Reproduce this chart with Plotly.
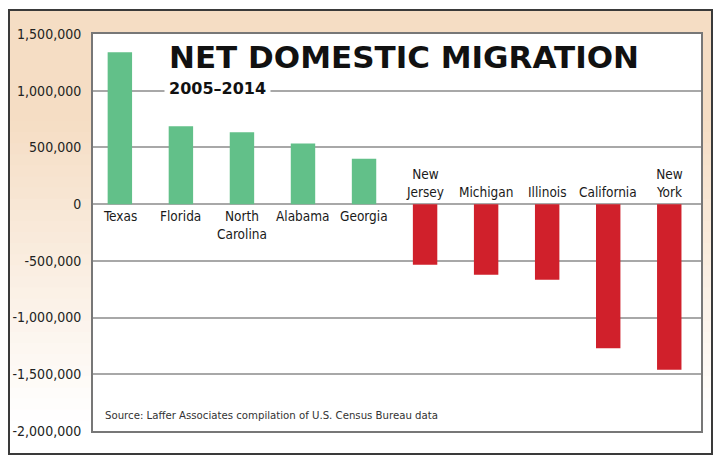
import plotly.graph_objects as go

states = ["Texas", "Florida", "North Carolina", "Alabama", "Georgia",
          "New Jersey", "Michigan", "Illinois", "California", "New York"]
state_labels = ["Texas", "Florida", "North<br>Carolina", "Alabama", "Georgia",
                "New<br>Jersey", "Michigan", "Illinois", "California", "New<br>York"]
migration = [1340000, 686000, 633000, 534000, 401000,
             -534000, -622000, -666000, -1271000, -1459000]
tick_values = [1500000, 1000000, 500000, 0, -500000, -1000000, -1500000, -2000000]
tick_labels = ["1,500,000", "1,000,000", "500,000", "0", "-500,000",
               "-1,000,000", "-1,500,000", "-2,000,000"]

W, H = 727, 465
L, R, T, B = 93, 701, 34, 431
PW, PH = R - L, B - T

def px_x(px):
    return (px - L) / PW

def px_y(py):
    return (B - py) / PH

GREEN = "#62C089"
RED = "#D0202B"
colors = [GREEN if v >= 0 else RED for v in migration]
xpos = list(range(len(states)))

fig = go.Figure()
fig.add_trace(go.Bar(x=xpos, y=migration, marker=dict(color=colors, line=dict(width=0)),
                     width=0.4, hoverinfo="skip"))

shapes = []
# gradient background inside frame (overlapping bands, no seams)
top_c = (245, 221, 196)
n = 40
y_top, y_bot = 10, 454
for i in range(n):
    a = y_top + (y_bot - y_top) * i / n
    b = y_top + (y_bot - y_top) * (i + 1) / n
    t = min(1.0, max(0.0, ((a + b) / 2 - 120) / 300))
    c = tuple(int(round(top_c[k] + (255 - top_c[k]) * t)) for k in range(3))
    shapes.append(dict(type="rect", xref="paper", yref="paper", layer="below",
                       x0=px_x(9), x1=px_x(712), y0=px_y(y_bot), y1=px_y(a),
                       fillcolor="rgb(%d,%d,%d)" % c, line=dict(width=0)))
# white plot area
shapes.append(dict(type="rect", xref="paper", yref="paper", layer="below",
                   x0=0, x1=1, y0=0, y1=1, fillcolor="white", line=dict(width=0)))
# outer frame
shapes.append(dict(type="rect", xref="paper", yref="paper", layer="above",
                   x0=px_x(9), x1=px_x(712), y0=px_y(454), y1=px_y(10),
                   fillcolor="rgba(0,0,0,0)", line=dict(color="#3a3a3a", width=2)))

NARROW = "DejaVu Sans Condensed, Liberation Sans Narrow, sans-serif"
annotations = []
for i, (lab, v) in enumerate(zip(state_labels, migration)):
    if v >= 0:
        annotations.append(dict(x=i, y=0, xref="x", yref="y", text=lab, showarrow=False,
                                yanchor="top", yshift=-2, align="center",
                                font=dict(family=NARROW, size=13.5, color="#1a1a1a")))
    else:
        annotations.append(dict(x=i, y=0, xref="x", yref="y", text=lab, showarrow=False,
                                yanchor="bottom", yshift=2, align="center",
                                font=dict(family=NARROW, size=13.5, color="#1a1a1a")))

annotations.append(dict(x=px_x(404), y=px_y(57), xref="paper", yref="paper",
                        text="<b>NET DOMESTIC MIGRATION</b>", showarrow=False,
                        xanchor="center", yanchor="middle",
                        font=dict(family="DejaVu Sans", size=31, color="#111")))
annotations.append(dict(x=px_x(164), y=px_y(88), xref="paper", yref="paper",
                        text="<b>2005–2014</b>", showarrow=False,
                        xanchor="left", yanchor="middle", bgcolor="white", borderpad=4,
                        font=dict(family="DejaVu Sans", size=16, color="#111")))
annotations.append(dict(x=px_x(103), y=px_y(415), xref="paper", yref="paper",
                        text="Source: Laffer Associates compilation of U.S. Census Bureau data",
                        showarrow=False, xanchor="left", yanchor="middle",
                        font=dict(family=NARROW, size=11.3, color="#333")))

fig.update_layout(
    width=W, height=H,
    margin=dict(l=L, r=W - R, t=T, b=H - B, pad=0),
    paper_bgcolor="white", plot_bgcolor="white",
    showlegend=False,
    shapes=shapes, annotations=annotations,
    xaxis=dict(range=[-0.44, 9.52], showticklabels=False, showgrid=False, zeroline=False,
               showline=True, mirror=True, linecolor="#777", linewidth=2, ticks="",
               automargin=False),
    yaxis=dict(range=[-2000000, 1500000], tickvals=tick_values, ticktext=tick_labels,
               showgrid=True, gridcolor="#A8A8A8", gridwidth=1.5,
               zeroline=True, zerolinecolor="#A8A8A8", zerolinewidth=2,
               showline=True, mirror=True, linecolor="#777", linewidth=2, ticks="",
               ticklabelstandoff=7, automargin=False,
               tickfont=dict(family=NARROW, size=14, color="#222")),
)

fig.write_html("out.html")
